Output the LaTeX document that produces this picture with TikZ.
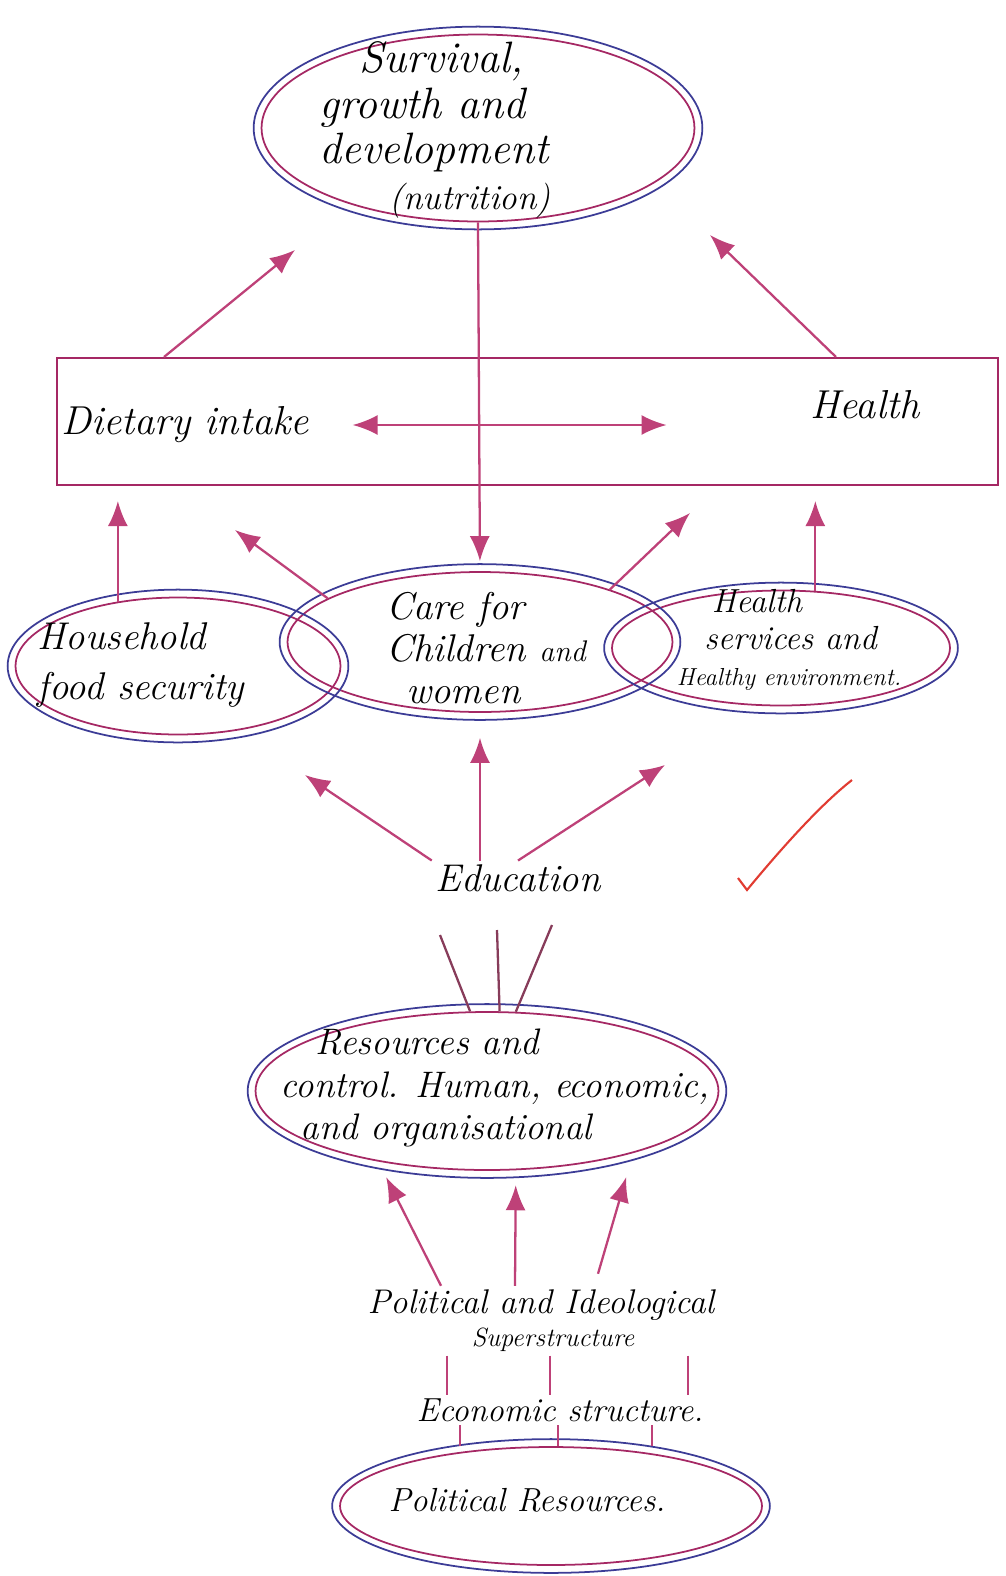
\documentclass[tikz,border=0pt]{standalone}
\usetikzlibrary{arrows.meta,positioning,calc,shapes.geometric}
\definecolor{inkblue}{RGB}{60,60,150}
\definecolor{inkpink}{RGB}{165,40,100}
\definecolor{arrowpink}{RGB}{190,65,120}
\definecolor{mauve}{RGB}{135,60,90}
\definecolor{redpen}{RGB}{225,60,50}
\newcommand{\handsize}[2]{\itshape\fontsize{#1}{#2}\selectfont}

\begin{document}
\begin{tikzpicture}[x=0.02cm, y=-0.02cm,
        blob/.style={ellipse, draw=inkpink, line width=1pt, inner sep=0pt},
        ring/.style={draw=inkblue, line width=1pt},
        bandbox/.style={draw=inkpink, line width=1.2pt, inner sep=0pt},
        hand/.style={align=left, inner sep=2pt, font=\handsize{22}{26}},
        arrow/.style={-{Latex[length=5mm,width=4mm]}, line width=1.3pt, draw=arrowpink},
        twoway/.style={arrow, {Latex[length=5mm,width=4mm]}-{Latex[length=5mm,width=4mm]}},
        link/.style={line width=1.3pt, draw=mauve},
        stub/.style={line width=1.3pt, draw=arrowpink}
    ]
        \path[use as bounding box] (0,0) rectangle (1005,1576);

        % outcome
        \node[blob, minimum width=8.66cm, minimum height=3.74cm] (survival) at (478,128) {};
        \node[hand, font=\handsize{25}{26}] (survtxt) at (435,130)
            {\hspace*{0.8cm}Survival,\\growth and\\development\\\hspace*{1.4cm}{\fontsize{20}{20}\selectfont(nutrition)}};

        % immediate causes
        \node[bandbox, minimum width=18.82cm, minimum height=2.54cm] (band) at (527.5,421.5) {};
        \node[hand, font=\handsize{23}{26}] (diet) at (185,425) {Dietary intake};
        \node[hand, font=\handsize{23}{26}] (health) at (865,405) {Health};

        % underlying causes
        \node[blob, minimum width=6.5cm, minimum height=2.74cm] (house) at (178,666) {};
        \node[blob, minimum width=7.7cm, minimum height=2.8cm] (care) at (480,642) {};
        \node[blob, minimum width=6.76cm, minimum height=2.3cm] (hsvc) at (781,648) {};
        \node[hand, font=\handsize{22}{28}] (housetxt) at (141,665) {Household\\food security};
        \node[hand, font=\handsize{22}{24}] (caretxt) at (486,648)
            {Care for\\Children {\fontsize{17}{17}\selectfont and}\\\hspace*{0.4cm}women};
        \node[hand, font=\handsize{19}{21}] (hsvctxt) at (789,640)
            {\hspace*{0.7cm}Health\\\hspace*{0.55cm}services and\\{\fontsize{14}{14}\selectfont Healthy environment.}};

        % basic causes
        \node[hand] (edu) at (518,878) {Education};
        \node[blob, minimum width=9.26cm, minimum height=3.16cm] (res) at (487,1091) {};
        \node[hand, font=\handsize{21}{24}] (restxt) at (495,1088)
            {\hspace*{0.7cm}Resources and\\control. Human, economic,\\\hspace*{0.4cm}and organisational};
        \node[hand, font=\handsize{19.5}{22}] (polit) at (541,1305) {Political and Ideological};
        \node[hand, font=\handsize{15}{17}] (super) at (553,1340) {Superstructure};
        \node[hand, font=\handsize{19}{22}] (econ) at (560,1410) {Economic structure.};
        \node[blob, minimum width=8.44cm, minimum height=2.36cm] (polres) at (551,1506) {};
        \node[hand, font=\handsize{19}{22}] (polrestxt) at (527,1500) {Political Resources.};

        % second outline round each ellipse
        \foreach \blob in {survival,house,care,hsvc,res,polres}
            \draw[ring] let \p1=($(\blob.east)-(\blob.center)$), \p2=($(\blob.north)-(\blob.center)$)
                in (\blob.center) ellipse ({\x1+4pt} and {\y2+4pt});

        % free arrow ends
        \coordinate (survL) at (295,250);
        \coordinate (survR) at (710,235);
        \coordinate (bandL) at (235,530);
        \coordinate (bandR) at (690,513);
        \coordinate (eduL) at (305,775);
        \coordinate (eduR) at (665,765);
        \coordinate (r1) at (440,935);
        \coordinate (r2) at (497,930);
        \coordinate (r3) at (552,925);

        \draw[arrow] (band.north west) ++(108,0) -- (survL);
        \draw[arrow] (band.north east) ++(-163,0) -- (survR);
        \draw[twoway, shorten <=0.8cm, shorten >=2.8cm] (diet.east) -- (diet.east -| health.west);
        \draw[arrow, shorten >=0.2cm] (survival.south) -- (care.north);

        \draw[arrow, shorten >=0.3cm] (house.133) -- (house.133 |- band.south);
        \draw[arrow] (care.164) -- (bandL);
        \draw[arrow] (care.22) -- (bandR);
        \draw[arrow, shorten >=0.3cm] (hsvc.59) -- (hsvc.59 |- band.south);

        \draw[arrow] (edu.north west) -- (eduL);
        \draw[arrow, shorten >=0.5cm] (edu.north -| care.south) -- (care.south);
        \draw[arrow] (edu.north) -- (eduR);

        \foreach \ang/\tip in {102/r1, 81/r2, 70/r3}
            \draw[link] (res.\ang) -- (\tip);

        \draw[arrow, shorten >=0.35cm] (polit.north) ++(-100,0) -- (res.213);
        \draw[arrow, shorten >=0.3cm] (polit.north) ++(-26,0) -- (res.290);
        \draw[arrow, shorten >=0.5cm] (polit.north) ++(57,-12) -- (res.337);

        \foreach \tx in {447,550,688} {
            \coordinate (tk) at (\tx,0);
            \draw[stub] (tk |- super.south) -- (tk |- econ.north);
        }
        \foreach \tx in {460,558,652} {
            \coordinate (tk) at (\tx,0);
            \draw[stub] (tk |- econ.south) -- (tk |- polres.north);
        }

        % tick mark
        \draw[redpen, line width=1.2pt] (738,878) -- (747,890) .. controls (780,850) and (820,805) .. (852,780);
    \end{tikzpicture}
\end{document}
